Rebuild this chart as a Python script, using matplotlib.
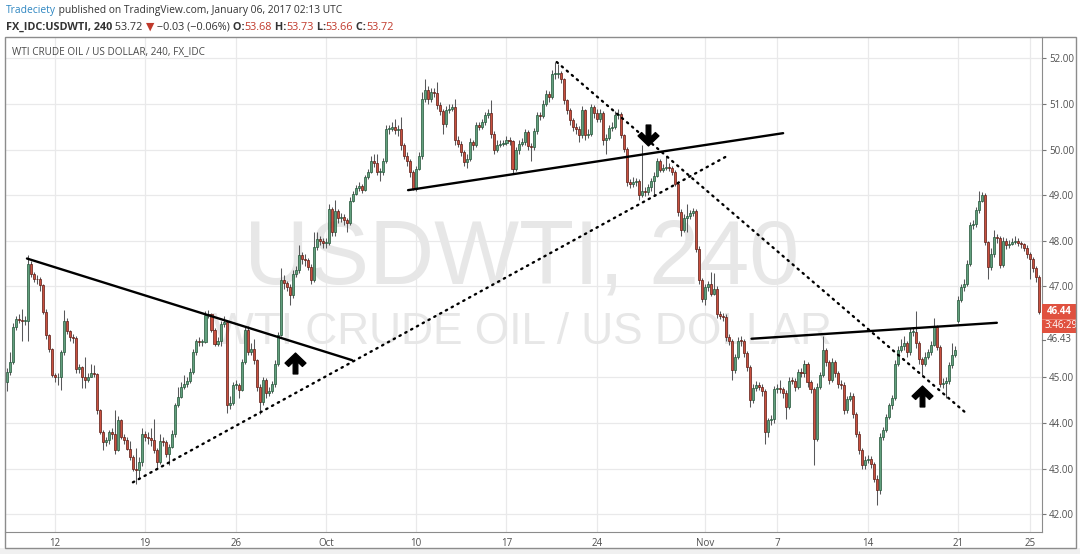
import matplotlib
matplotlib.use('Agg')
import matplotlib.pyplot as plt
import numpy as np
from matplotlib.path import Path
from matplotlib.patches import Rectangle

W, H = 1080, 554

# 4h bars, FX_IDC:USDWTI, Sep 7 - Nov 25 2016 (index = bar number)
first_open = 45.20
gap_opens = {317: 46.25}

close = [
    44.90, 45.12, 45.35, 46.10, 46.28, 46.27, 46.24, 46.25, 47.50, 47.28,
    47.17, 47.15, 47.02, 46.44, 45.93, 45.63, 45.05, 45.00, 45.02, 45.56,
    46.25, 46.02, 45.89, 45.86, 45.19, 45.22, 45.01, 44.94, 45.02, 45.10,
    45.08, 44.28, 43.81, 43.59, 43.62, 43.80, 43.75, 43.40, 44.06, 43.70,
    43.62, 43.44, 43.26, 43.00, 42.97, 43.15, 43.75, 43.70, 43.68, 43.62,
    43.40, 43.14, 43.60, 43.58, 43.33, 43.48, 43.77, 44.39, 44.57, 44.80,
    44.86, 44.92, 45.12, 45.56, 45.79, 45.78, 45.78, 46.37, 46.40, 46.04,
    45.74, 45.80, 46.18, 46.22, 44.40, 44.45, 44.83, 44.83, 44.72, 45.33,
    46.04, 45.56, 45.63, 45.38, 44.79, 44.46, 44.94, 44.65, 44.70, 44.85,
    45.30, 45.93, 47.13, 47.08, 46.99, 46.80, 47.28, 47.35, 47.68, 47.60,
    47.57, 47.43, 47.13, 47.86, 48.04, 48.00, 47.95, 47.95, 48.70, 48.19,
    48.65, 48.50, 48.52, 48.45, 48.38, 48.88, 49.03, 49.15, 49.20, 49.12,
    49.40, 49.50, 49.76, 49.70, 49.50, 49.50, 49.76, 50.45, 50.45, 50.50,
    50.42, 50.45, 50.09, 49.87, 49.76, 49.51, 49.14, 49.58, 49.85, 51.12,
    51.30, 51.12, 51.26, 51.25, 50.97, 50.85, 50.57, 50.86, 50.90, 50.93,
    50.20, 50.13, 49.95, 49.73, 49.80, 50.16, 50.10, 50.53, 50.50, 50.60,
    50.75, 50.80, 50.35, 49.98, 50.10, 50.13, 50.15, 50.20, 50.18, 49.58,
    49.98, 50.13, 50.16, 50.38, 50.08, 50.06, 50.40, 50.75, 50.74, 51.00,
    51.22, 51.15, 51.66, 51.66, 51.68, 51.55, 51.08, 50.86, 50.64, 50.50,
    50.45, 50.31, 50.86, 50.31, 50.35, 50.93, 50.80, 50.68, 50.80, 50.20,
    50.25, 50.48, 50.50, 50.75, 50.78, 50.31, 50.02, 49.29, 49.25, 49.28,
    49.30, 49.00, 49.10, 49.07, 49.18, 49.30, 49.43, 49.76, 49.55, 49.60,
    49.62, 49.60, 49.50, 49.25, 48.63, 48.23, 48.50, 48.55, 48.60, 48.65,
    47.82, 47.13, 46.73, 46.98, 47.05, 46.84, 46.95, 46.40, 46.35, 46.33,
    45.89, 45.80, 45.16, 45.45, 45.81, 45.80, 45.53, 45.23, 44.50, 44.78,
    44.83, 44.80, 44.70, 43.80, 44.06, 44.08, 44.75, 44.76, 44.74, 44.66,
    44.35, 44.93, 44.92, 44.80, 45.12, 45.10, 45.30, 44.89, 44.75, 43.66,
    44.80, 45.05, 45.60, 45.33, 44.94, 45.33, 45.10, 44.86, 44.84, 44.28,
    44.53, 44.60, 44.20, 43.77, 43.40, 43.07, 43.20, 43.22, 43.10, 42.78,
    42.53, 43.70, 43.84, 44.13, 44.39, 44.55, 45.30, 45.60, 45.70, 45.75,
    45.55, 45.99, 46.00, 45.75, 45.40, 45.30, 45.45, 45.55, 45.72, 46.10,
    45.67, 44.86, 44.88, 44.92, 45.27, 45.50, 45.60, 46.69, 46.98, 47.05,
    47.50, 48.34, 48.36, 48.67, 48.88, 49.00, 47.97, 47.42, 47.70, 48.08,
    48.05, 47.46, 48.00, 47.90, 47.93, 47.98, 48.00, 47.96, 47.92, 47.85,
    47.70, 47.60, 47.40, 47.20, 46.44,
]

high = [
    45.35, 45.20, 45.55, 46.20, 46.35, 46.40, 46.50, 46.35, 47.68, 47.55,
    47.32, 47.25, 47.20, 47.05, 46.50, 45.95, 45.65, 45.10, 45.10, 45.60,
    46.47, 46.30, 46.05, 45.95, 45.90, 45.30, 45.25, 45.45, 45.10, 45.30,
    45.27, 45.10, 44.30, 43.85, 43.70, 43.85, 43.90, 44.28, 44.15, 44.10,
    43.75, 43.70, 43.60, 43.30, 43.45, 43.25, 43.90, 43.82, 43.80, 43.90,
    44.10, 43.45, 43.75, 43.70, 43.62, 43.55, 43.85, 44.45, 44.80, 44.90,
    45.05, 45.00, 45.20, 45.62, 45.85, 45.88, 45.85, 46.45, 46.47, 46.42,
    46.08, 45.88, 46.25, 46.35, 46.25, 44.60, 44.90, 44.95, 44.88, 45.40,
    46.10, 46.12, 45.75, 45.85, 45.40, 44.85, 45.00, 44.98, 44.80, 44.92,
    45.38, 46.00, 47.40, 47.25, 47.12, 47.05, 47.35, 47.45, 47.90, 47.75,
    47.70, 47.62, 47.48, 48.20, 48.20, 48.10, 48.05, 48.05, 48.80, 48.75,
    48.90, 48.70, 48.60, 48.58, 48.50, 48.95, 49.10, 49.22, 49.28, 49.25,
    49.45, 49.58, 49.85, 49.90, 49.90, 49.60, 49.82, 50.55, 50.55, 50.60,
    50.68, 50.55, 50.71, 50.15, 49.95, 49.80, 49.55, 49.65, 49.95, 51.26,
    51.55, 51.40, 51.35, 51.35, 51.48, 51.05, 50.90, 50.95, 51.00, 51.00,
    51.12, 50.30, 50.18, 50.00, 49.90, 50.25, 50.22, 50.60, 50.60, 50.68,
    50.82, 50.90, 51.08, 50.40, 50.20, 50.22, 50.22, 50.30, 50.28, 50.22,
    50.05, 50.20, 50.25, 50.45, 50.42, 50.15, 50.48, 50.82, 50.82, 51.08,
    51.30, 51.28, 51.75, 51.92, 51.88, 51.72, 51.58, 51.12, 50.92, 50.70,
    50.58, 50.52, 50.95, 50.90, 50.45, 51.00, 50.98, 50.88, 50.90, 50.85,
    50.35, 50.55, 50.60, 50.85, 50.90, 50.82, 50.35, 50.05, 49.35, 49.40,
    49.38, 49.35, 50.09, 49.18, 49.25, 49.38, 49.50, 49.82, 49.80, 49.68,
    49.85, 49.70, 49.65, 49.55, 49.30, 48.70, 48.58, 48.80, 48.68, 48.72,
    48.70, 47.88, 47.18, 47.05, 47.12, 47.31, 47.30, 47.00, 46.45, 46.42,
    46.40, 45.95, 45.85, 45.52, 45.88, 45.90, 45.85, 45.58, 45.28, 44.85,
    44.92, 44.90, 44.85, 44.75, 44.12, 44.18, 44.82, 44.85, 44.95, 44.80,
    44.72, 45.00, 45.02, 44.98, 45.19, 45.20, 45.38, 45.35, 44.95, 44.80,
    44.88, 45.12, 45.90, 45.65, 45.38, 45.42, 45.38, 45.15, 44.95, 44.90,
    44.60, 44.68, 44.65, 44.25, 43.82, 43.45, 43.28, 43.30, 43.28, 43.15,
    42.85, 43.78, 43.92, 44.20, 44.45, 44.62, 45.38, 45.68, 45.85, 45.90,
    45.80, 46.08, 46.10, 46.45, 45.80, 45.45, 45.55, 45.62, 45.80, 46.30,
    46.15, 45.72, 44.98, 45.00, 45.35, 45.75, 45.70, 46.78, 47.05, 47.15,
    47.58, 48.42, 48.45, 48.75, 49.10, 49.08, 49.05, 48.00, 47.85, 48.23,
    48.15, 48.10, 48.08, 48.05, 48.02, 48.06, 48.10, 48.05, 48.00, 47.95,
    47.90, 47.75, 47.65, 47.45, 47.25,
]

low = [
    44.65, 44.70, 45.05, 45.30, 46.05, 46.20, 45.80, 46.15, 45.80, 47.20,
    47.10, 47.05, 46.90, 46.40, 45.85, 45.55, 45.00, 44.90, 44.83, 44.72,
    45.50, 45.95, 45.80, 45.75, 45.10, 45.10, 44.76, 44.76, 44.90, 45.00,
    45.00, 44.20, 43.75, 43.40, 43.50, 43.55, 43.65, 43.33, 43.38, 43.65,
    43.55, 43.40, 43.20, 42.95, 42.67, 42.80, 43.05, 43.60, 43.55, 43.50,
    43.35, 43.00, 43.10, 43.50, 43.25, 43.08, 43.45, 43.70, 44.35, 44.55,
    44.75, 44.80, 44.88, 45.08, 45.50, 45.70, 45.70, 45.75, 46.30, 46.00,
    45.68, 45.70, 45.70, 46.10, 44.21, 44.30, 44.40, 44.75, 44.55, 44.70,
    45.30, 45.50, 45.50, 45.30, 44.70, 44.20, 44.40, 44.55, 44.60, 44.65,
    44.80, 45.25, 45.90, 46.95, 46.90, 46.58, 46.75, 47.20, 47.30, 47.50,
    47.45, 47.35, 47.05, 47.10, 47.80, 47.90, 47.85, 47.85, 47.90, 48.10,
    48.10, 48.40, 48.42, 48.35, 48.20, 48.35, 48.85, 49.00, 49.10, 49.05,
    49.10, 49.35, 49.48, 49.62, 49.45, 49.30, 49.45, 49.70, 50.35, 50.40,
    50.35, 50.30, 50.00, 49.80, 49.65, 49.40, 49.11, 49.10, 49.55, 49.80,
    51.05, 51.00, 51.05, 51.15, 50.90, 50.75, 50.35, 50.50, 50.80, 50.85,
    50.10, 50.05, 49.85, 49.65, 49.60, 49.75, 50.00, 50.05, 50.42, 50.45,
    50.55, 50.70, 50.25, 49.90, 49.95, 50.05, 50.08, 50.10, 50.10, 49.47,
    49.52, 49.90, 50.08, 50.10, 50.00, 49.76, 50.00, 50.35, 50.65, 50.70,
    50.95, 51.05, 51.10, 51.55, 51.58, 51.45, 51.00, 50.78, 50.55, 50.40,
    50.35, 50.17, 50.25, 50.22, 50.25, 50.30, 50.70, 50.60, 50.60, 50.10,
    49.90, 50.20, 50.40, 50.45, 50.68, 50.25, 49.95, 49.20, 49.15, 49.18,
    49.20, 48.89, 48.95, 48.98, 49.00, 49.10, 49.00, 49.40, 49.50, 49.50,
    49.55, 49.52, 49.45, 49.20, 48.55, 48.10, 48.20, 48.20, 48.48, 48.55,
    47.75, 47.05, 46.65, 46.60, 46.90, 46.78, 46.80, 46.30, 46.28, 46.25,
    45.80, 45.72, 44.94, 45.10, 45.40, 45.70, 45.45, 45.15, 44.35, 44.45,
    44.70, 44.72, 44.60, 43.55, 43.70, 43.95, 44.00, 44.65, 44.65, 44.55,
    44.10, 44.30, 44.85, 44.70, 44.75, 45.00, 45.02, 44.80, 44.65, 43.07,
    43.60, 44.75, 45.00, 45.25, 44.85, 44.90, 45.00, 44.78, 44.75, 44.20,
    44.22, 44.48, 44.12, 43.70, 43.32, 43.00, 43.00, 43.12, 43.02, 42.70,
    42.20, 42.45, 43.62, 43.80, 44.08, 44.30, 44.50, 45.25, 45.55, 45.60,
    45.45, 45.50, 45.90, 45.65, 45.30, 45.05, 45.25, 45.40, 45.50, 45.68,
    45.60, 44.80, 44.78, 44.55, 44.85, 45.20, 45.45, 46.20, 46.65, 46.90,
    47.00, 47.45, 48.25, 48.30, 48.60, 48.85, 47.90, 47.17, 47.35, 47.65,
    47.95, 47.40, 47.42, 47.82, 47.85, 47.90, 47.92, 47.88, 47.85, 47.78,
    47.62, 47.15, 47.32, 47.10, 46.40,
]

# date axis: bar index of first bar of each labelled day
tick_idx = [17, 47, 77, 107, 137, 167, 197, 233, 257, 287, 317, 341]
tick_lbl = ['12', '19', '26', 'Oct', '10', '17', '24', 'Nov', '7', '14', '21', '25']
price_ticks = [42, 43, 44, 45, 47, 48, 49, 50, 51, 52]

# drawn trend lines: (bar, price) pairs
solid_lines = [((7.7, 47.61), (115.7, 45.38)),
               ((134.3, 49.11), (258.9, 50.36)),
               ((248.4, 45.85), (329.9, 46.20))]
dotted_lines = [((42.9, 42.70), (240.6, 49.87)),
                ((183.7, 51.92), (319.3, 44.24))]
up_arrows = [(96.7, 45.31), (305.0, 44.59)]
down_arrows = [(214.0, 50.31)]

UP, UP_EDGE = '#62a07e', '#225437'
DN, DN_EDGE = '#c9503f', '#5b1a13'
WICK = '#58585a'
GRID = '#e9e9ea'
TXT = '#4f4f4f'
FONT = ['Open Sans', 'DejaVu Sans']

c = np.array(close)
hi = np.array(high)
lo = np.array(low)
o = np.concatenate([[first_open], c[:-1]])
for k, v in gap_opens.items():
    o[k] = v
hi = np.maximum(hi, np.maximum(o, c))
lo = np.minimum(lo, np.minimum(o, c))
x = np.arange(len(c))
up = c >= o

fig = plt.figure(figsize=(W / 100, H / 100), dpi=100)
fig.patch.set_facecolor('white')


def fx(px):
    return px / W


def fy(py):
    return 1 - py / H


# outer grey strip + frame
fig.patches.append(Rectangle((0, 0), 1, fy(548), transform=fig.transFigure,
                             facecolor='#f0f0f0', edgecolor='none', zorder=-2))
fig.patches.append(Rectangle((fx(5), fy(548)), fx(1076) - fx(5), fy(37) - fy(548),
                             transform=fig.transFigure, facecolor='none',
                             edgecolor='#8c8c8c', linewidth=1.0, zorder=10))

ax = fig.add_axes([fx(5), fy(532), fx(1042) - fx(5), fy(37) - fy(532)])
ax.set_facecolor('white')
ax.set_xlim(0.4, 344.9)
ax.set_ylim(41.61, 52.47)

ax.set_axisbelow(True)
ax.grid(True, color=GRID, linewidth=0.9)
ax.set_xticks(tick_idx)
ax.set_xticklabels(tick_lbl)
ax.set_yticks(price_ticks)
ax.set_yticklabels(['%.2f' % v for v in price_ticks])
ax.yaxis.tick_right()
ax.tick_params(axis='y', direction='out', length=3, width=0.8, color='#777777',
               labelsize=7, labelcolor=TXT, pad=2)
ax.tick_params(axis='x', length=0, labelsize=7, labelcolor=TXT, pad=4)
for lab in ax.get_xticklabels() + ax.get_yticklabels():
    lab.set_family(FONT)
for s in ['top', 'left']:
    ax.spines[s].set_visible(False)
ax.spines['right'].set_color('#8c8c8c')
ax.spines['bottom'].set_color('#8c8c8c')

# watermark
wm1 = ax.text(0.5, 0.5, 'USDWTI, 240', transform=fig.transFigure, ha='center',
              va='center', color='#e7e7e7', fontsize=70, family='Liberation Sans',
              zorder=0.8)
wm2 = ax.text(0.5, 0.5, 'WTI CRUDE OIL / US DOLLAR', transform=fig.transFigure,
              ha='center', va='center', color='#e7e7e7', fontsize=35,
              family='Liberation Sans', zorder=0.8)
fig.canvas.draw()
rend = fig.canvas.get_renderer()
for t, target, cx, cy in [(wm1, 555, 522, 260), (wm2, 620, 522, 333)]:
    bb = t.get_window_extent(rend)
    t.set_fontsize(t.get_fontsize() * target / bb.width)
    t.set_position((fx(cx), fy(cy)))

# candles
ax.vlines(x, lo, hi, color=WICK, linewidth=0.75, zorder=2)
bottom = np.minimum(o, c)
height = np.maximum(np.abs(c - o), 0.02)
ax.bar(x[up], height[up], bottom=bottom[up], width=0.68, color=UP,
       edgecolor=UP_EDGE, linewidth=0.5, zorder=3)
ax.bar(x[~up], height[~up], bottom=bottom[~up], width=0.68, color=DN,
       edgecolor=DN_EDGE, linewidth=0.5, zorder=3)

# trend lines
for (x0, y0), (x1, y1) in solid_lines:
    ax.plot([x0, x1], [y0, y1], color='black', linewidth=1.7,
            solid_capstyle='round', zorder=5)
for (x0, y0), (x1, y1) in dotted_lines:
    ax.plot([x0, x1], [y0, y1], color='black', linewidth=1.7,
            linestyle=(0, (0.6, 2.2)), dash_capstyle='round', zorder=5)

# arrows
verts = [(0, 0.5), (0.5, 0.02), (0.33, -0.14), (0.11, 0.08), (0.11, -0.5),
         (-0.11, -0.5), (-0.11, 0.08), (-0.33, -0.14), (-0.5, 0.02), (0, 0.5)]
up_marker = Path(verts, closed=True)
dn_marker = Path([(vx, -vy) for vx, vy in verts], closed=True)
for px, py in up_arrows:
    ax.plot(px, py, marker=up_marker, markersize=15, color='black',
            linestyle='none', zorder=6)
for px, py in down_arrows:
    ax.plot(px, py, marker=dn_marker, markersize=15, color='black',
            linestyle='none', zorder=6)

# pane title
ax.text(fx(12), fy(52), 'WTI CRUDE OIL / US DOLLAR, 240, FX_IDC',
        transform=fig.transFigure, fontsize=7.2, color='#4a4a4a',
        family=FONT, va='center', ha='left', zorder=7)

# last price boxes on the price scale
fig.patches.append(Rectangle((fx(1042), fy(333)), fx(1076) - fx(1042), fy(304) - fy(333),
                             transform=fig.transFigure, facecolor='#e0513f',
                             edgecolor='none', zorder=5))
fig.lines.append(plt.Line2D([fx(1042), fx(1076)], [fy(319), fy(319)],
                            transform=fig.transFigure, color='#f08a7c',
                            linewidth=0.6, zorder=6))
fig.text(fx(1047), fy(312), '46.44', color='white', fontsize=7, fontweight='bold',
         family=FONT, va='center', ha='left', zorder=7)
fig.text(fx(1045), fy(326), '3:46:29', color='white', fontsize=7,
         family=FONT, va='center', ha='left', zorder=7)
fig.lines.append(plt.Line2D([fx(1042), fx(1045)], [fy(340), fy(340)],
                            transform=fig.transFigure, color='#777777',
                            linewidth=0.8, zorder=6))
fig.text(fx(1047), fy(340), '46.43', color=TXT, fontsize=7, family=FONT,
         va='center', ha='left', zorder=7)


# header lines
def chain(segments, x0, y, size):
    xpos = x0
    for txt, col, wt in segments:
        t = fig.text(fx(xpos), fy(y), txt, color=col, fontsize=size, fontweight=wt,
                     family=FONT, va='center', ha='left')
        xpos += t.get_window_extent(rend).width
    return xpos


def fit_size(segments, target, base=8.0):
    total = 0
    for txt, col, wt in segments:
        p = fig.text(0, 0, txt, fontsize=base, fontweight=wt, family=FONT)
        total += p.get_window_extent(rend).width
        p.remove()
    return base * target / total


RED = '#c0392b'
line1 = [('Tradeciety', '#2e86c1', 'normal'),
         (' published on TradingView.com, January 06, 2017 02:13 UTC', '#333333', 'normal')]
line2 = [('FX_IDC:USDWTI, 240', '#333333', 'bold'),
         (' 53.72 ', '#333333', 'normal'),
         ('\u25bc', RED, 'normal'),
         (' \u22120.03 (\u22120.06%)', '#333333', 'normal'),
         (' O:', '#333333', 'bold'), ('53.68', RED, 'normal'),
         (' H:', '#333333', 'bold'), ('53.73', RED, 'normal'),
         (' L:', '#333333', 'bold'), ('53.66', RED, 'normal'),
         (' C:', '#333333', 'bold'), ('53.72', RED, 'normal')]

chain(line1, 6, 10, fit_size(line1, 336))
chain(line2, 6, 27, fit_size(line2, 390))

fig.savefig('out.png', dpi=100)
